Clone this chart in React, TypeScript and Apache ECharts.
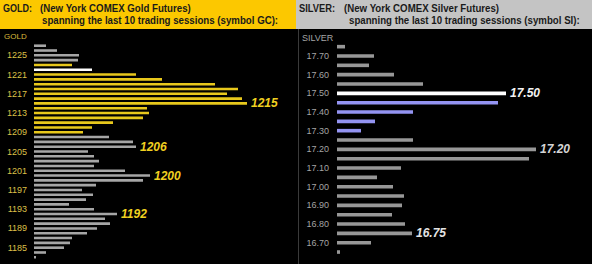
import React, { useEffect, useRef } from "react";
import * as echarts from "echarts";

// Gold price levels (top to bottom) and session volume bars
const goldLevels = [
  "1227","1226","1225","1224","1223","1222","1221","1220","1219","1218","1217","1216","1215",
  "1214","1213","1212","1211","1210","1209","1208","1207","1206","1205","1204","1203","1202",
  "1201","1200","1199","1198","1197","1196","1195","1194","1193","1192","1191","1190","1189",
  "1188","1187","1186","1185","1184","1183",
];
const goldVolume = [
  12, 23, 45, 44, 38, 58, 102, 128, 181, 204, 193, 208, 213,
  113, 115, 109, 79, 58, 49, 75, 99, 102, 54, 60, 65, 60,
  91, 116, 109, 62, 48, 59, 52, 35, 60, 83, 71, 76, 63,
  53, 38, 36, 30, 12, 2,
];
// g = grey, y = yellow (value area), w = white (last price)
const goldKind = [
  "g","g","g","g","y","w","y","y","y","y","y","y","y",
  "y","y","y","y","y","y","g","g","g","g","g","g","g",
  "g","g","g","g","g","g","g","g","g","g","g","g","g",
  "g","g","g","g","g","g",
];
const goldMarked = ["1215", "1206", "1200", "1192"];

const silverLevels = [
  "17.75","17.70","17.65","17.60","17.55","17.50","17.45","17.40","17.35","17.30","17.25","17.20",
  "17.15","17.10","17.05","17.00","16.95","16.90","16.85","16.80","16.75","16.70","16.65",
];
const silverVolume = [
  8, 37, 32, 57, 86, 169, 161, 76, 38, 24, 76, 199,
  192, 64, 40, 56, 67, 65, 55, 68, 75, 34, 3,
];
// g = grey, b = blue, w = white
const silverKind = [
  "g","g","g","g","g","w","b","b","b","b","g","g",
  "g","g","g","g","g","g","g","g","g","g","g",
];
const silverMarked = ["17.50", "17.20", "16.75"];

const goldColors: Record<string, string> = { g: "#a6a6a6", y: "#e8c81c", w: "#ffffff" };
const silverColors: Record<string, string> = { g: "#979797", b: "#9494f2", w: "#ffffff" };
const silverLabelColors: Record<string, string> = { "17.50": "#f2f2f2", "17.20": "#d4d4d4", "16.75": "#e4e4e4" };

const headFont = '"Liberation Sans", Arial, sans-serif';
const tickFont = '"Liberation Sans", Arial, sans-serif';

export default function App() {
  const ref = useRef<HTMLDivElement>(null);
  useEffect(() => {
    document.body.style.margin = "0";
    if (!ref.current) return;
    const chart = echarts.init(ref.current, undefined, { renderer: "svg" });

    const goldData = goldVolume.map((v, i) => {
      const lvl = goldLevels[i];
      const item: any = { value: v, itemStyle: { color: goldColors[goldKind[i]] } };
      if (goldMarked.includes(lvl)) {
        item.label = {
          show: true,
          position: "right",
          distance: 4,
          formatter: "{b}",
          color: "#f0d020",
          fontSize: 12,
          fontWeight: "bold",
          fontStyle: "italic",
          fontFamily: tickFont,
        };
      }
      return item;
    });
    const silverData = silverVolume.map((v, i) => {
      const lvl = silverLevels[i];
      const item: any = { value: v, itemStyle: { color: silverColors[silverKind[i]] } };
      if (silverMarked.includes(lvl)) {
        item.label = {
          show: true,
          position: "right",
          distance: 4,
          formatter: "{b}",
          color: silverLabelColors[lvl],
          fontSize: 12,
          fontWeight: "bold",
          fontStyle: "italic",
          fontFamily: tickFont,
        };
      }
      return item;
    });

    const headText = (x: number, y: number, text: string, sx: number) => ({
      type: "text",
      x,
      y,
      scaleX: sx,
      style: {
        text,
        fill: "#1a1a1a",
        font: `bold 11px ${headFont}`,
        textVerticalAlign: "middle",
      },
      z: 10,
    });

    chart.setOption({
      animation: false,
      backgroundColor: "#000000",
      graphic: [
        { type: "rect", shape: { x: 0, y: 0, width: 296, height: 29 }, style: { fill: "#fcc800" }, z: 5 },
        { type: "rect", shape: { x: 296, y: 0, width: 296, height: 29 }, style: { fill: "#c4c4c4" }, z: 5 },
        { type: "line", shape: { x1: 298.5, y1: 29, x2: 298.5, y2: 264 }, style: { stroke: "#3a3a3a", lineWidth: 1 }, z: 5 },
        headText(3, 8, "GOLD:", 0.82),
        headText(40, 8, "(New York COMEX Gold Futures)", 0.88),
        headText(42, 20, "spanning the last 10 trading sessions (symbol GC):", 0.88),
        headText(299, 8, "SILVER:", 0.85),
        headText(344, 8, "(New York COMEX Silver Futures)", 0.88),
        headText(349, 20, "spanning the last 10 trading sessions (symbol SI):", 0.88),
        {
          type: "text", x: 4, y: 36,
          style: { text: "GOLD", fill: "#d8bc3c", font: `8px ${tickFont}`, textVerticalAlign: "middle" },
          z: 10,
        },
        {
          type: "text", x: 302, y: 38,
          style: { text: "SILVER", fill: "#a4a4a4", font: `9px ${tickFont}`, textVerticalAlign: "middle" },
          z: 10,
        },
      ],
      grid: [
        { left: 34, top: 43.3, width: 250, height: 216.4 },
        { left: 337, top: 42, width: 250, height: 214.7 },
      ],
      xAxis: [
        { type: "value", gridIndex: 0, min: 0, max: 250, show: false },
        { type: "value", gridIndex: 1, min: 0, max: 250, show: false },
      ],
      yAxis: [
        {
          type: "category",
          gridIndex: 0,
          data: goldLevels,
          inverse: true,
          axisLine: { show: false },
          axisTick: { show: false },
          splitLine: { show: false },
          axisLabel: {
            interval: (idx: number) => idx % 4 === 2,
            color: "#dcc048",
            fontSize: 9,
            fontFamily: tickFont,
            margin: 7,
          },
        },
        {
          type: "category",
          gridIndex: 1,
          data: silverLevels,
          inverse: true,
          axisLine: { show: false },
          axisTick: { show: false },
          splitLine: { show: false },
          axisLabel: {
            interval: (idx: number) => idx % 2 === 1,
            color: "#a4a4a4",
            fontSize: 9,
            fontFamily: tickFont,
            margin: 8,
          },
        },
      ],
      series: [
        { type: "bar", xAxisIndex: 0, yAxisIndex: 0, data: goldData, barWidth: 2.6 },
        { type: "bar", xAxisIndex: 1, yAxisIndex: 1, data: silverData, barWidth: 3.6 },
      ],
    });
    return () => chart.dispose();
  }, []);
  return <div ref={ref} style={{ width: 592, height: 264, background: "#000" }} />;
}
